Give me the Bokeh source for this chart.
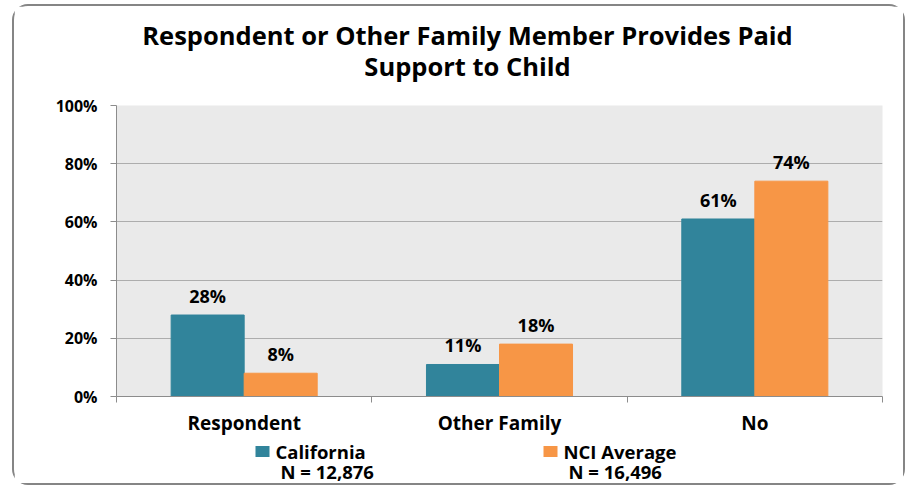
from bokeh.plotting import figure
from bokeh.layouts import column
from bokeh.models import (ColumnDataSource, FixedTicker, PrintfTickFormatter, Range1d, LabelSet)
from bokeh.core.properties import value
from bokeh.embed import file_html
from bokeh.resources import INLINE

# ---- data ----
title_lines = ["Respondent or Other Family Member Provides Paid", "Support to Child"]
categories = ["Respondent", "Other Family", "No"]
california = [28, 11, 61]
nci_average = [8, 18, 74]
series_names = ["California", "NCI Average"]
series_n = ["N = 12,876", "N = 16,496"]
y_ticks = [0, 20, 40, 60, 80, 100]

TEAL = "#31849B"
ORANGE = "#F79646"
FONT = "Open Sans"
W = 889
H_TITLE, H_MAIN, H_LEG = 85, 347, 45
BL, BR = 102, 21          # left / right borders shared by all three panels


def blank(h):
    # panel whose x coordinates are page pixels (frame aligned with the chart frame)
    f = figure(width=W, height=h, output_backend="svg", toolbar_location=None,
               x_range=Range1d(116, 882), y_range=Range1d(h, 0),
               x_axis_type=None, y_axis_type=None,
               min_border_left=BL, min_border_right=BR, min_border_top=0, min_border_bottom=0)
    f.outline_line_color = None
    f.grid.visible = False
    return f


# ---- title ----
pt = blank(H_TITLE)
pt.text(x=[467, 467], y=[28, 59], text=title_lines, text_align="center",
        text_baseline="middle", text_font=value(FONT), text_font_style="bold",
        text_font_size="25.5px", text_color="black")

# ---- main chart ----
p = figure(width=W, height=H_MAIN, output_backend="svg", toolbar_location=None,
           x_range=Range1d(0, len(categories)), y_range=Range1d(0, 100),
           min_border_left=BL, min_border_right=BR, min_border_top=14, min_border_bottom=39,
           background_fill_color="#EAEAEA", border_fill_color="white")
p.outline_line_color = None

centers = [i + 0.5 for i in range(len(categories))]
off = 0.143
bw = 0.286
src_ca = ColumnDataSource(dict(x=[c - off for c in centers], top=california,
                               text=[f"{v}%" for v in california]))
src_nci = ColumnDataSource(dict(x=[c + off for c in centers], top=nci_average,
                                text=[f"{v}%" for v in nci_average]))
p.vbar(x="x", top="top", width=bw, source=src_ca, fill_color=TEAL, line_color=TEAL)
p.vbar(x="x", top="top", width=bw, source=src_nci, fill_color=ORANGE, line_color=ORANGE)

for src in (src_ca, src_nci):
    p.add_layout(LabelSet(x="x", y="top", text="text", source=src, y_offset=19,
                          text_align="center", text_baseline="middle",
                          text_font=value(FONT), text_font_style="bold", text_font_size="18px",
                          text_color="black"))

p.xgrid.visible = False
p.ygrid.ticker = FixedTicker(ticks=y_ticks)
p.ygrid.grid_line_color = "#ADADAD"
p.ygrid.grid_line_width = 1

ya = p.yaxis[0]
ya.ticker = FixedTicker(ticks=y_ticks)
ya.formatter = PrintfTickFormatter(format="%d%%")
ya.major_tick_in = 0
ya.major_tick_out = 6
ya.minor_tick_line_color = None
ya.axis_line_color = "#8C8C8C"
ya.major_tick_line_color = "#8C8C8C"
ya.major_label_standoff = 13
ya.major_label_text_font = FONT
ya.major_label_text_font_style = "bold"
ya.major_label_text_font_size = "16px"
ya.major_label_text_color = "black"

xa = p.xaxis[0]
xa.ticker = FixedTicker(ticks=centers, minor_ticks=list(range(len(categories) + 1)))
xa.major_label_overrides = {c: name for c, name in zip(centers, categories)}
xa.major_tick_in = 0
xa.major_tick_out = 0
xa.minor_tick_in = 0
xa.minor_tick_out = 6
xa.minor_tick_line_color = "#8C8C8C"
xa.axis_line_color = "#8C8C8C"
xa.major_label_standoff = 7
xa.major_label_text_font = FONT
xa.major_label_text_font_style = "bold"
xa.major_label_text_font_size = "19px"
xa.major_label_text_color = "black"

# ---- legend ----
pl = blank(H_LEG)
pl.rect(x=[262, 550], y=[13, 13], width=14, height=11, fill_color=[TEAL, ORANGE], line_color=None)
pl.text(x=[275, 563], y=[13, 13], text=series_names, text_baseline="middle",
        text_font=value(FONT), text_font_style="bold", text_font_size="18.5px", text_color="black")
pl.text(x=[280, 568], y=[33, 33], text=series_n, text_baseline="middle",
        text_font=value(FONT), text_font_style="bold", text_font_size="18.5px", text_color="black")

lay = column(pt, p, pl, spacing=0,
             styles={"border": "2px solid #858585", "border-radius": "16px",
                     "margin-left": "12px", "margin-top": "4px"})

open("out.html", "w").write(file_html(lay, INLINE))
